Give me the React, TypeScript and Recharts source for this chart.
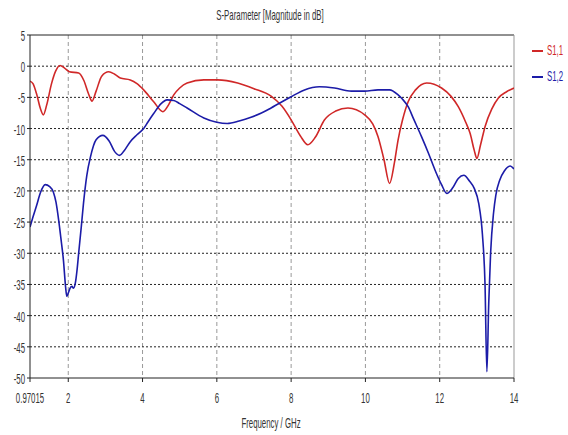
import { LineChart, Line, XAxis, YAxis, CartesianGrid, ReferenceLine } from 'recharts'

// S1,1 (red)
const s11Freq = [
    0.97015, 1.05, 1.15, 1.25, 1.33, 1.42, 1.55, 1.66, 1.78, 1.9, 2.03, 2.28, 2.42, 2.55, 2.64, 2.75,
    2.9, 3.09, 3.25, 3.4, 3.67, 3.85, 4.03, 4.3, 4.55, 4.7, 4.84, 5.0, 5.2, 5.65, 6.02, 6.56, 7.0,
    7.46, 7.75, 8.0, 8.25, 8.45, 8.65, 8.9, 9.2, 9.53, 9.98, 10.2, 10.34, 10.5, 10.65, 10.78, 10.88,
    11.0, 11.15, 11.35, 11.65, 12.05, 12.3, 12.5, 12.7, 12.82, 12.93, 13.0, 13.1, 13.22, 13.4, 13.58,
    13.8, 14.0,
]
const s11Mag = [
    -2.4, -2.8, -4.5, -6.8, -7.8, -6.2, -2.8, -0.8, 0.1, -0.3, -0.9, -1.1, -2.3, -4.5, -5.6, -4.0,
    -1.6, -0.9, -1.3, -1.9, -2.2, -2.8, -3.8, -5.7, -7.3, -6.2, -4.6, -3.5, -2.7, -2.2, -2.2, -2.7, -3.6,
    -4.8, -6.4, -8.6, -11.2, -12.6, -11.4, -8.6, -7.2, -6.7, -7.8, -9.3, -11.3, -15, -18.8, -15.5, -11.8,
    -8.6, -5.7, -3.8, -2.7, -3.5, -4.8, -6.5, -9, -10.8, -13.5, -14.8, -12.6, -9.7, -6.9, -5.1,
    -4.1, -3.5,
]

// S1,2 (blue)
const s12Freq = [
    0.97015, 1.05, 1.15, 1.25, 1.38, 1.5, 1.6, 1.67, 1.74, 1.8, 1.87, 1.93, 1.96, 2.0, 2.05, 2.1, 2.14,
    2.19, 2.24, 2.28, 2.35, 2.41, 2.5, 2.6, 2.75, 2.93, 3.1, 3.25, 3.38, 3.5, 3.67, 3.85, 4.03, 4.15,
    4.3, 4.5, 4.66, 4.84, 5.0, 5.2, 5.65, 6.0, 6.28, 6.6, 6.92, 7.2, 7.46, 8.0, 8.36, 8.76, 9.17, 9.62,
    9.98, 10.34, 10.65, 10.88, 11.0, 11.15, 11.3, 11.51, 11.7, 11.87, 12.05, 12.19, 12.35, 12.5, 12.65,
    12.8, 12.93, 13.05, 13.15, 13.22, 13.27, 13.32, 13.37, 13.45, 13.51, 13.62, 13.74, 13.9, 14.0,
]
const s12Mag = [
    -25.8, -24.2, -22.3, -20.3, -19.0, -19.3, -20.2, -21.8, -24.6, -27.5, -31.1, -35.5, -36.9, -36.4,
    -35.6, -35.3, -35.6, -34.8, -32.5, -30, -25.8, -22, -17.5, -14.5, -11.8, -11.1, -12.0, -13.7, -14.3,
    -13.6, -12.1, -11.0, -10, -8.9, -7.6, -6.0, -5.4, -5.5, -6.0, -6.7, -8.3, -9.0, -9.2, -8.8, -8.2,
    -7.5, -6.7, -4.9, -3.8, -3.3, -3.5, -4.0, -4.0, -3.8, -3.8, -4.6, -5.3, -6.5, -8.5, -11.3, -14,
    -16.6, -19, -20.4, -19.5, -18, -17.5, -18.4, -19.6, -22, -27, -35, -49, -38, -30, -23.5, -20.7,
    -18.2, -16.8, -16.0, -16.5,
]

const freqTicks = [0.97015, 2, 4, 6, 8, 10, 12, 14]
const magTicks = [5, 0, -5, -10, -15, -20, -25, -30, -35, -40, -45, -50]
const seriesNames = ['S1,1', 'S1,2']

const s11 = s11Freq.map((f, i) => ({ f, v: s11Mag[i] }))
const s12 = s12Freq.map((f, i) => ({ f, v: s12Mag[i] }))

const FONT = "'Liberation Sans', Arial, sans-serif"
const RED = '#d02828'
const BLUE = '#1c1ca8'
const TXT = '#333'

// the reference uses a very narrow font, so squeeze text horizontally
function NarrowText({ x, y, anchor = 'middle', fill = TXT, children }: any) {
    return (
        <text
            transform={`translate(${x},${y}) scale(0.56,1)`}
            textAnchor={anchor}
            fontFamily={FONT}
            fontSize={14}
            fill={fill}
        >
            {children}
        </text>
    )
}

const XTick = ({ x, y, payload }: any) => (
    <NarrowText x={x} y={y + 17}>{String(payload.value)}</NarrowText>
)

const YTick = ({ x, y, payload }: any) => (
    <NarrowText x={x} y={y + 6} anchor="end">{String(payload.value)}</NarrowText>
)

export default function App() {
    return (
        <div style={{ position: 'absolute', left: 0, top: 0, width: 568, height: 435, background: '#fff' }}>
            <LineChart width={568} height={435} margin={{ top: 35, right: 54, left: 0, bottom: 0 }}>
                <CartesianGrid
                    horizontal={false}
                    verticalValues={[2, 4, 6, 8, 10, 12]}
                    stroke="#999"
                    strokeDasharray="4 3"
                />
                <CartesianGrid
                    vertical={false}
                    horizontalValues={[0, -5, -10, -15, -20, -25, -30, -35, -40, -45]}
                    stroke="#222"
                    strokeDasharray="2 2"
                />
                <XAxis
                    type="number"
                    dataKey="f"
                    domain={[0.97015, 14]}
                    ticks={freqTicks}
                    allowDataOverflow
                    height={57}
                    stroke="#222"
                    tickSize={4}
                    tickMargin={4}
                    tick={<XTick />}
                />
                <YAxis
                    type="number"
                    domain={[-50, 5]}
                    ticks={magTicks}
                    allowDataOverflow
                    width={30}
                    stroke="#222"
                    tickSize={3}
                    tickMargin={2}
                    tick={<YTick />}
                />
                <ReferenceLine y={5} stroke="#222" />
                <ReferenceLine x={14} stroke="#999" />
                <Line data={s11} dataKey="v" name={seriesNames[0]} type="monotone" stroke={RED} strokeWidth={1.6}
                    dot={false} isAnimationActive={false} />
                <Line data={s12} dataKey="v" name={seriesNames[1]} type="monotone" stroke={BLUE} strokeWidth={1.6}
                    dot={false} isAnimationActive={false} />
            </LineChart>
            <svg width={568} height={435} style={{ position: 'absolute', left: 0, top: 0, pointerEvents: 'none' }}>
                <NarrowText x={270} y={20}>S-Parameter [Magnitude in dB]</NarrowText>
                <NarrowText x={271} y={428}>Frequency / GHz</NarrowText>
                <line x1={532} x2={543} y1={51} y2={51} stroke={RED} strokeWidth={2} />
                <NarrowText x={547} y={55} anchor="start" fill={RED}>{seriesNames[0]}</NarrowText>
                <line x1={532} x2={543} y1={77} y2={77} stroke={BLUE} strokeWidth={2} />
                <NarrowText x={547} y={81} anchor="start" fill={BLUE}>{seriesNames[1]}</NarrowText>
            </svg>
        </div>
    )
}
